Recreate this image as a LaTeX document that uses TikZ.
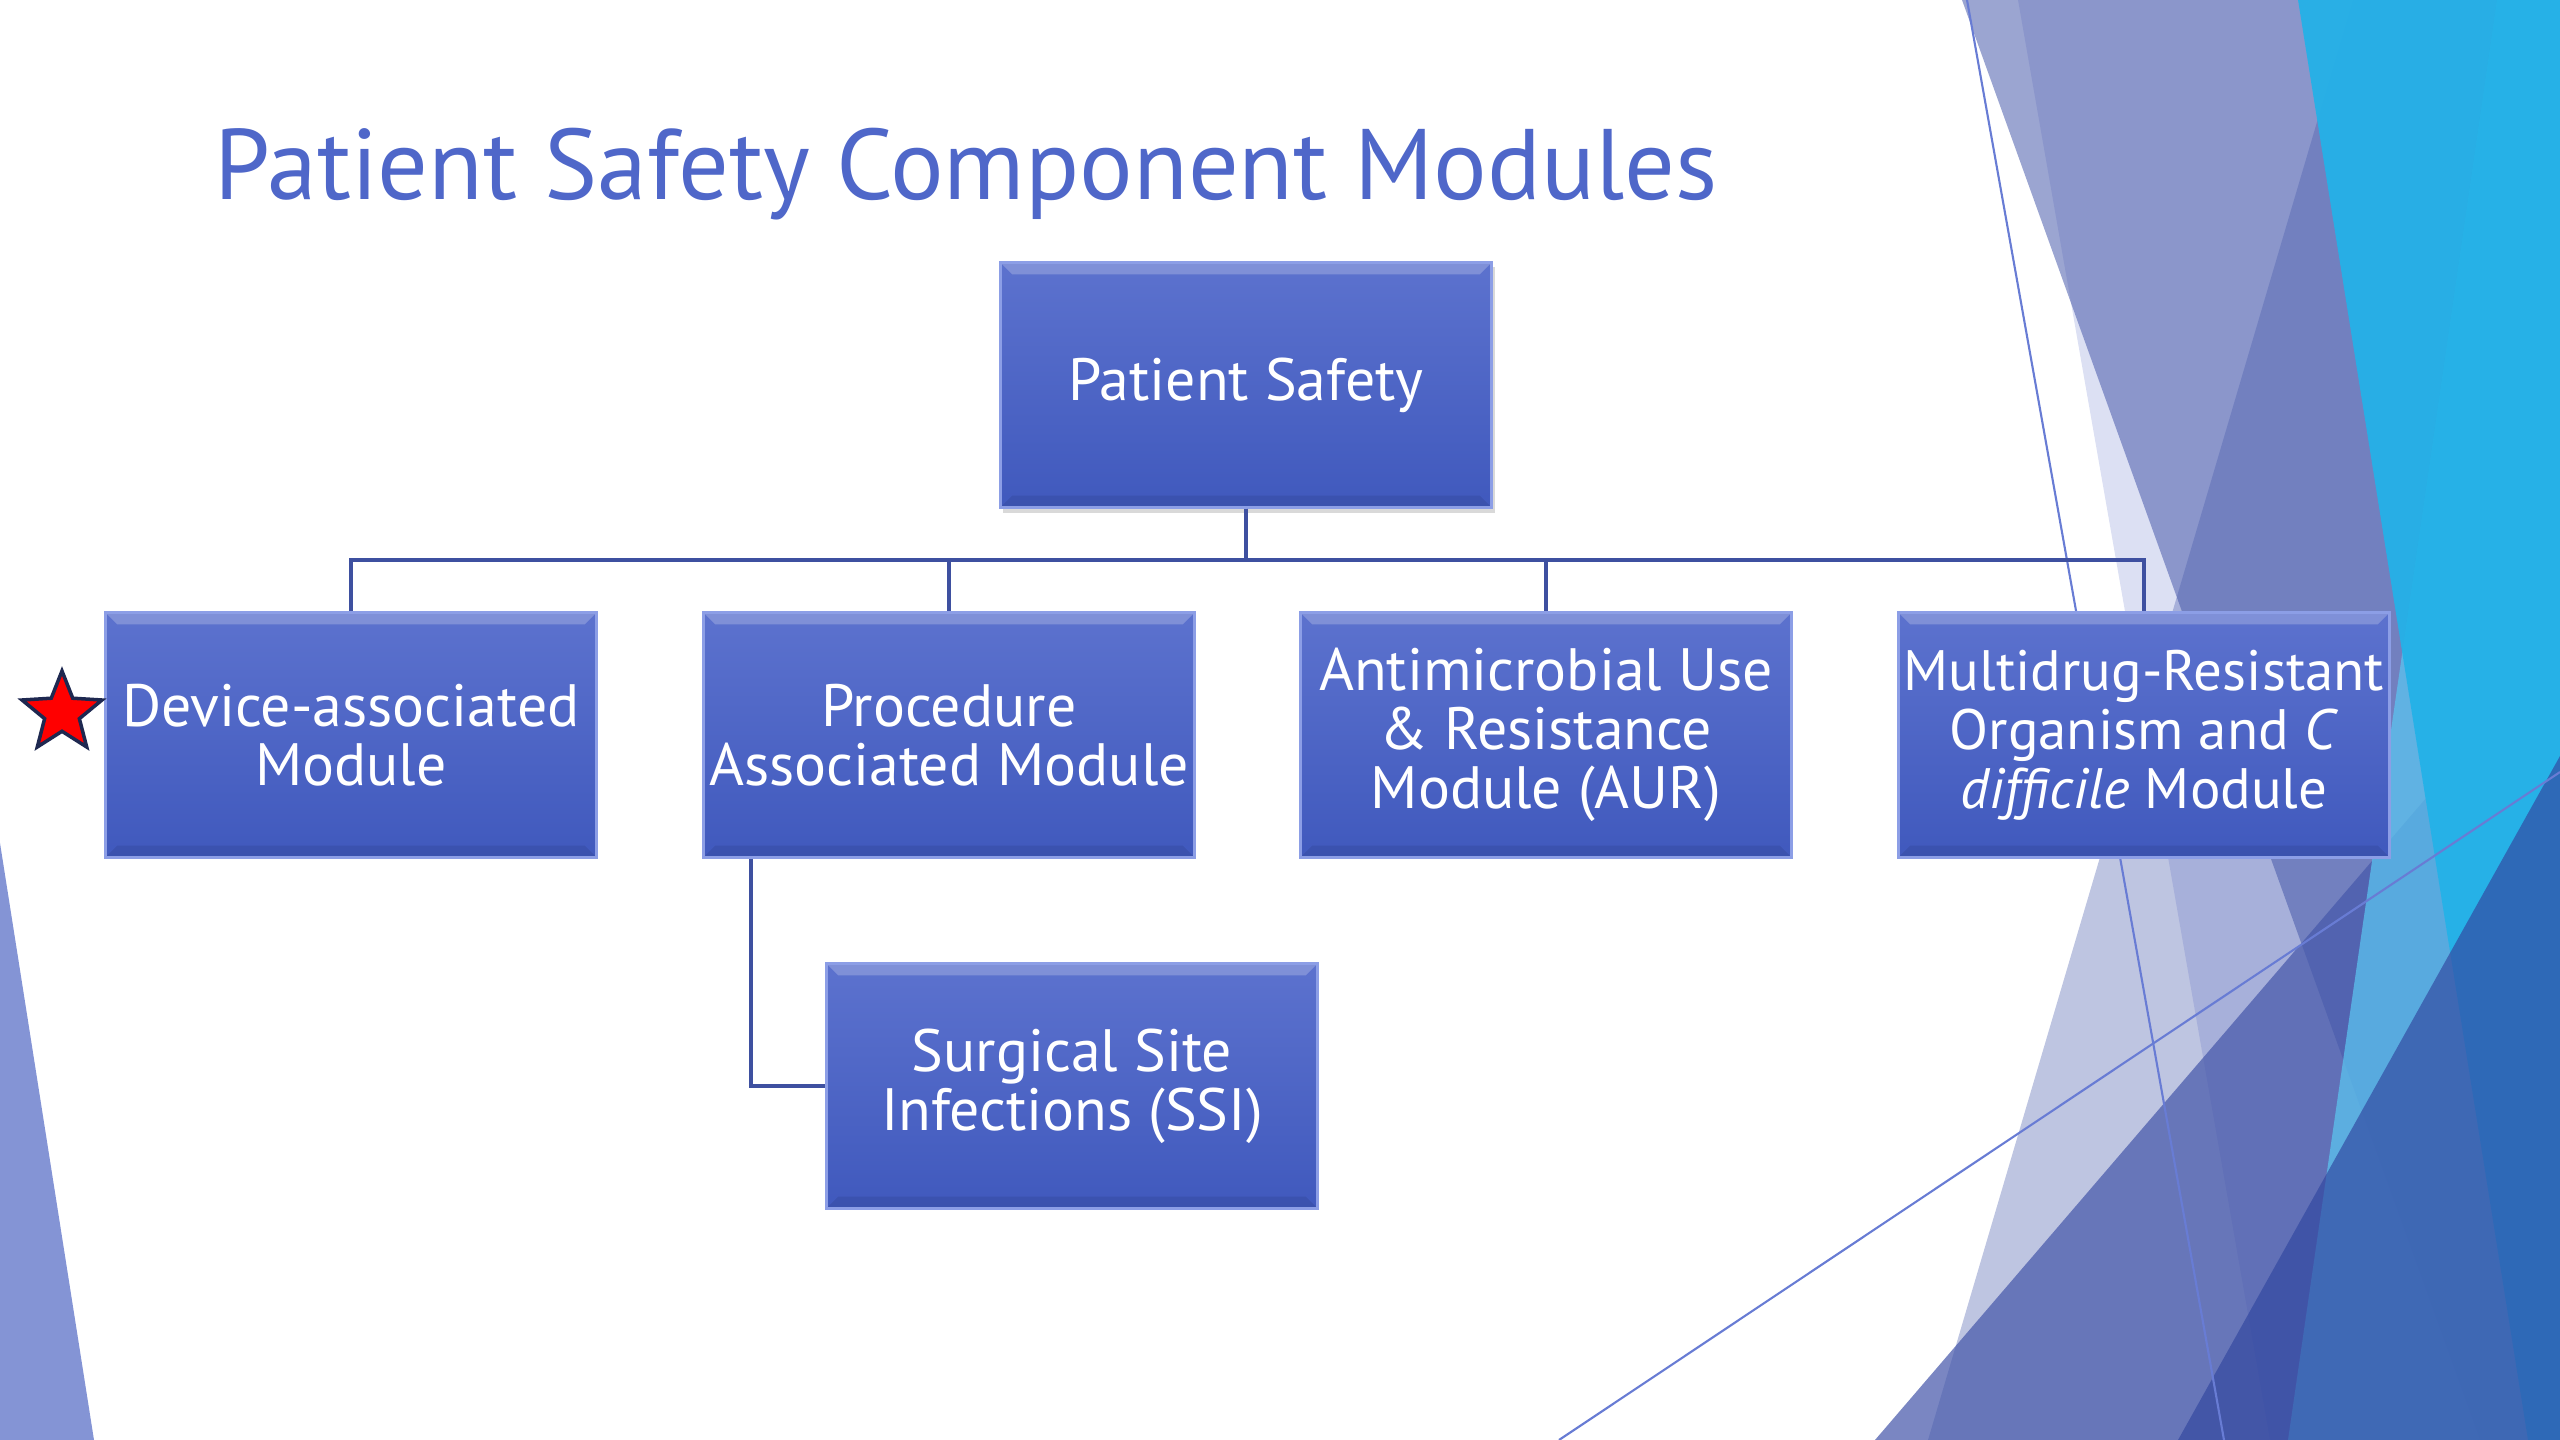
\documentclass[tikz,border=0pt]{standalone}
\usepackage{fontspec}
\setmainfont{PT Sans}
\usepackage{tikz}
\usepackage{xcolor}
\usetikzlibrary{shapes.geometric, positioning, shadows, calc}

\definecolor{titleblue}{RGB}{79,103,201}
\definecolor{boxtop}{RGB}{92,114,206}
\definecolor{boxbot}{RGB}{64,89,189}
\definecolor{boxedge}{RGB}{140,158,230}
\definecolor{linkblue}{RGB}{62,80,160}
\definecolor{facet}{RGB}{70,88,170}
\definecolor{facetlight}{RGB}{79,99,196}
\definecolor{skyone}{RGB}{34,178,232}
\definecolor{skytwo}{RGB}{91,195,239}
\definecolor{deepblue}{RGB}{50,71,160}
\definecolor{leftband}{RGB}{132,148,213}
\definecolor{thinline}{RGB}{104,124,212}
\definecolor{starnavy}{RGB}{30,40,80}

\tikzset{
  module/.style={rectangle, minimum width=4.91cm, minimum height=2.45cm,
    top color=boxtop, bottom color=boxbot, draw=boxedge, line width=0.8pt,
    text=white, align=center, inner xsep=0pt, inner ysep=2pt,
    font=\fontsize{17}{16.8}\selectfont,
    path picture={
      \fill[white, opacity=0.22] (path picture bounding box.north west) -- (path picture bounding box.north east)
        -- ([xshift=-0.12cm, yshift=-0.12cm]path picture bounding box.north east)
        -- ([xshift=0.12cm, yshift=-0.12cm]path picture bounding box.north west) -- cycle;
      \fill[black, opacity=0.08] (path picture bounding box.south west) -- (path picture bounding box.south east)
        -- ([xshift=-0.12cm, yshift=0.12cm]path picture bounding box.south east)
        -- ([xshift=0.12cm, yshift=0.12cm]path picture bounding box.south west) -- cycle;
    }},
  link/.style={draw=linkblue, line width=1.3pt}
}

\begin{document}
\begin{tikzpicture}[x=0.01cm, y=-0.01cm]
  \useasboundingbox (0,0) rectangle (2560,1440);

  % facet background
  \fill[facetlight, opacity=0.2] (2018,0) -- (2560,0) -- (2560,1440) -- (2270,1440) -- cycle;
  \fill[facet, opacity=0.54] (1962,0) -- (2560,0) -- (2560,1440) -- (2480,1440) -- cycle;
  \fill[facet, opacity=0.35] (2353,0) -- (2560,0) -- (2560,1440) -- (1928,1440) -- cycle;
  \fill[facet, opacity=0.72] (1875,1440) -- (2560,642) -- (2560,1440) -- cycle;
  \fill[skytwo, opacity=0.75] (2497,0) -- (2560,0) -- (2560,1440) -- (2288,1440) -- cycle;
  \fill[skyone, opacity=0.92] (2298,0) -- (2560,0) -- (2560,1440) -- (2528,1440) -- cycle;
  \fill[deepblue, opacity=0.67] (2178,1440) -- (2560,756) -- (2560,1440) -- cycle;
  \fill[leftband] (0,843) -- (94,1440) -- (0,1440) -- cycle;
  \draw[thinline, line width=0.6pt] (1967,0) -- (2224,1440);
  \draw[thinline, line width=0.6pt] (1559,1440) -- (2560,772);

  \node[anchor=base west, inner sep=0pt, text=titleblue, font=\fontsize{28.5}{34}\selectfont] (title) at (214,200) {Patient Safety Component Modules};

  \node[module, drop shadow={opacity=0.3, shadow xshift=0.03cm, shadow yshift=-0.05cm}] (ps) at (1246,385) {Patient Safety};
  \node[module] (dev) at (351,735) {Device-associated\\Module};
  \node[module] (proc) at (949,735) {Procedure\\Associated Module};
  \node[module] (aur) at (1546,735) {Antimicrobial Use\\\& Resistance\\Module (AUR)};
  \node[module, font=\fontsize{16.2}{16.8}\selectfont] (mdro) at (2144,735) {Multidrug-Resistant\\Organism and \textit{C}\\\textit{difficile} Module};
  \node[module] (ssi) at (1072,1086) {Surgical Site\\Infections (SSI)};

  \node[star, star points=5, star point ratio=2.3, fill=red, draw=starnavy, line width=1pt,
        minimum size=0.84cm, inner sep=0pt] (flag) at (62,713) {};

  \coordinate (bar) at (1246,560);
  \foreach \n in {dev, proc, aur, mdro}
    \draw[link] (ps.south) -- (bar) -| (\n.north);
  \draw[link] ([xshift=0.49cm]proc.south west) |- (ssi.west);
\end{tikzpicture}
\end{document}
